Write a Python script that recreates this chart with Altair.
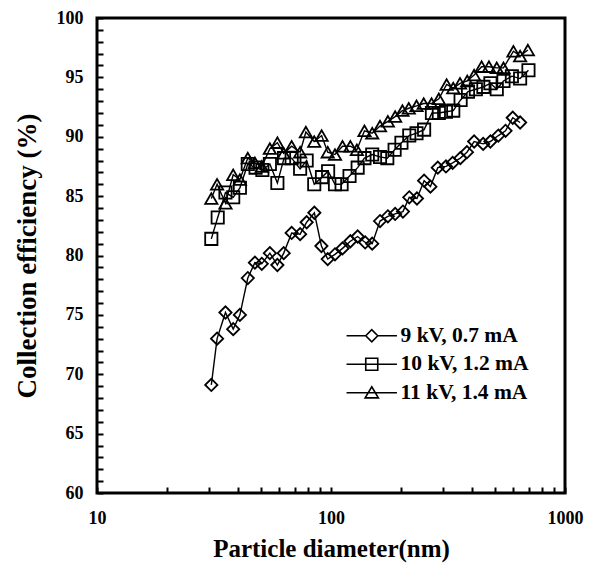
import altair as alt
import pandas as pd

# ---- data ----
names = ["9 kV, 0.7 mA", "10 kV, 1.2 mA", "11 kV, 1.4 mA"]

d9_x = [30.8, 32.6, 35.4, 38.2, 40.8, 44.1, 47.3, 50.6, 54.8, 59.0, 62.8, 67.9, 73.8,
        78.7, 84.9, 91.0, 96.8, 104, 112, 121, 130, 140, 150, 162, 175, 188, 203, 216,
        233, 250, 266, 286, 310, 331, 357, 381, 409, 447, 480, 519, 557, 598, 643]
d9_y = [69.1, 73.0, 75.2, 73.8, 75.0, 78.1, 79.4, 79.3, 80.2, 79.2, 80.2, 81.9, 81.8,
        82.8, 83.6, 80.8, 79.7, 80.1, 80.6, 81.2, 81.6, 81.1, 81.0, 82.9, 83.3, 83.5,
        83.7, 84.9, 84.8, 86.3, 85.8, 87.4, 87.5, 87.8, 88.2, 88.7, 89.6, 89.4, 89.6,
        90.1, 90.5, 91.6, 91.2]

d10_x = [30.8, 32.8, 35.4, 38.2, 40.8, 44.1, 47.6, 50.9, 54.8, 59.0, 63.0, 67.9, 73.8,
         78.7, 84.8, 91.5, 97.2, 104, 111, 120, 130, 139, 150, 162, 174, 187, 200, 216,
         232, 250, 270, 289, 310, 333, 358, 385, 416, 448, 480, 511, 546, 593, 643, 698]
d10_y = [81.4, 83.2, 85.3, 84.9, 85.7, 87.7, 87.4, 87.2, 87.7, 86.1, 88.2, 88.2, 87.3,
         88.0, 86.0, 86.6, 87.1, 86.0, 86.0, 86.7, 87.4, 88.2, 88.5, 88.3, 88.2, 88.9,
         89.5, 90.1, 90.3, 90.6, 92.0, 92.0, 92.1, 92.2, 93.1, 93.8, 94.0, 94.2, 94.5,
         94.0, 94.7, 95.1, 94.9, 95.6]

d11_x = [30.8, 32.6, 35.4, 38.2, 40.8, 44.1, 47.3, 50.6, 54.8, 59.0, 62.8, 67.9, 73.8,
         78.1, 84.8, 91.2, 96.8, 104, 112, 121, 129, 139, 150, 162, 175, 188, 202, 215,
         232, 249, 269, 289, 312, 333, 356, 382, 409, 440, 473, 511, 546, 602, 643, 694]
d11_y = [84.8, 86.0, 84.4, 86.8, 86.4, 88.2, 87.8, 87.5, 89.0, 89.5, 88.6, 89.2, 88.7,
         90.4, 89.6, 90.1, 88.7, 88.5, 89.2, 89.2, 88.9, 90.5, 90.3, 90.9, 91.3, 91.7,
         92.2, 92.4, 92.6, 92.8, 92.8, 93.2, 94.4, 94.1, 94.5, 94.7, 95.2, 95.9, 95.9,
         95.8, 95.8, 97.2, 96.8, 97.3]

x_ticks = [10, 20, 30, 40, 50, 60, 70, 80, 90, 100, 200, 300, 400, 500, 600, 700, 800, 900, 1000]
y_ticks = list(range(60, 101))

rows = []
for nm, xs, ys in [(names[0], d9_x, d9_y), (names[1], d10_x, d10_y), (names[2], d11_x, d11_y)]:
    for a, b in zip(xs, ys):
        rows.append({"series": nm, "d": a, "eff": b})
df = pd.DataFrame(rows)

FONT = "Liberation Serif"

xscale = alt.Scale(type="log", domain=[10, 1000], nice=False)
yscale = alt.Scale(domain=[60, 100], nice=False, zero=False)

xaxis = alt.Axis(
    values=x_ticks, format="d",
    labelExpr="(datum.value == 10 || datum.value == 100 || datum.value == 1000) ? datum.label : ''",
    offset=-6, domain=False, tickSize=6, tickWidth=2, tickColor="black",
    labelPadding=16, labelOverlap=False, labelFlush=False, grid=False,
    title="Particle diameter(nm)", titlePadding=9, titleFontSize=25,
)
yaxis = alt.Axis(
    values=y_ticks,
    labelExpr="datum.value % 5 == 0 ? datum.label : ''",
    offset=-6, domain=False, tickSize=6, tickWidth=2, tickColor="black",
    labelPadding=14, labelOverlap=False, labelFlush=False, grid=False,
    title="Collection efficiency (%)", titlePadding=15, titleFontSize=27,
)

X = alt.X("d:Q", scale=xscale, axis=xaxis)
Y = alt.Y("eff:Q", scale=yscale, axis=yaxis)

base = alt.Chart(df)

lines = base.mark_line(color="black", strokeWidth=1.4).encode(
    x=X, y=Y, detail="series:N",
)

points = base.mark_point(filled=False, color="black", strokeWidth=1.8, opacity=1).encode(
    x=X, y=Y,
    shape=alt.Shape("series:N", scale=alt.Scale(domain=names, range=["diamond", "square", "triangle-up"]), legend=None),
    size=alt.Size("series:N", scale=alt.Scale(domain=names, range=[150, 150, 190]), legend=None),
)

leg_paths = [
    "M-4.2,0L-1,0M1,0L4.2,0M-1,0L0,-1L1,0L0,1Z",
    "M-4.2,0L4.2,0M-1,-1L1,-1L1,1L-1,1Z",
    "M-4.2,0L4.2,0M0,-1L1.1,0.85L-1.1,0.85Z",
]

legend_layer = base.transform_filter("false").mark_point(
    filled=False, color="black", strokeWidth=1.6, size=144, opacity=1
).encode(
    x=X, y=Y,
    shape=alt.Shape(
        "series:N",
        scale=alt.Scale(domain=names, range=leg_paths),
        legend=alt.Legend(
            title=None, orient="none", legendX=264, legendY=307,
            labelFont=FONT, labelFontSize=21.5, labelFontWeight="bold", labelColor="black",
            labelOffset=18, rowPadding=5.5, padding=0,
            symbolSize=144, symbolStrokeWidth=1.6, symbolStrokeColor="black",
            symbolFillColor="transparent", symbolOpacity=1,
        ),
    ),
)

chart = (
    alt.layer(lines, points, legend_layer)
    .resolve_scale(shape="independent", size="independent")
    .properties(
        width=468, height=475,
        autosize=alt.AutoSizeParams(type="none"),
        padding={"left": 89, "top": 10, "right": 24, "bottom": 74},
        background="white",
    )
    .configure_view(stroke="black", strokeWidth=3)
    .configure_axis(
        labelFont=FONT, labelFontSize=18, labelFontWeight="bold", labelColor="black",
        titleFont=FONT, titleFontWeight="bold", titleColor="black",
    )
)

chart.save("out.html", embed_options={"renderer": "svg", "actions": False})
